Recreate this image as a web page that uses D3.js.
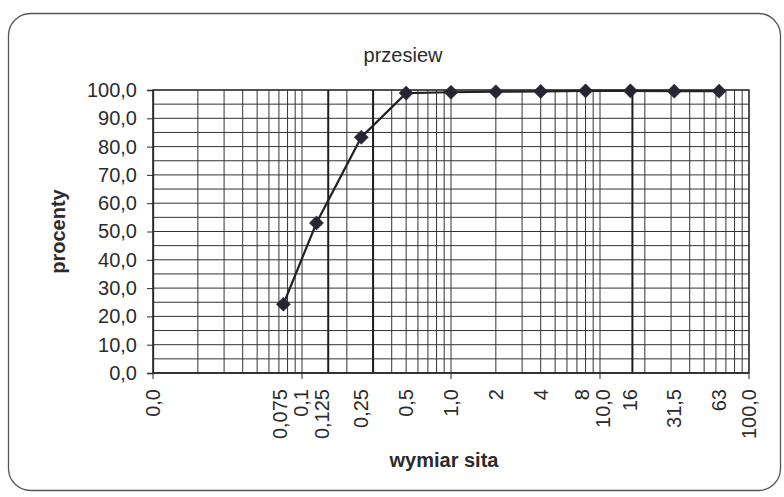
<!DOCTYPE html>
<html>
<head>
<meta charset="utf-8">
<script src="https://cdn.jsdelivr.net/npm/d3@7/dist/d3.min.js"></script>
<style>
  html, body { margin: 0; padding: 0; background: #ffffff; }
  svg { display: block; font-family: "Liberation Sans", Arial, sans-serif; }
</style>
</head>
<body>
<svg id="chart" width="784" height="497"></svg>
<script>
// ---- data ----
const sieves = [0.075, 0.125, 0.25, 0.5, 1, 2, 4, 8, 16, 31.5, 63];
const passing = [24.3, 53.0, 83.3, 98.9, 99.2, 99.4, 99.5, 99.7, 99.7, 99.6, 99.6];
const sieveLabels = ["0,075", "0,125", "0,25", "0,5", null, "2", "4", "8", "16", "31,5", "63"];
const extraMarks = [0.15, 0.3, 16.5];           // heavier vertical lines
const xDecades = [0.01, 0.1, 1, 10, 100];
const yTicks = [0, 10, 20, 30, 40, 50, 60, 70, 80, 90, 100];
const title = "przesiew";
const xTitle = "wymiar sita";
const yTitle = "procenty";

// ---- layout ----
const svg = d3.select("#chart");
const pLeft = 153, pRight = 749, pTop = 90, pBottom = 373;
const ink = "#2b2b2b";
const fs = 20;

const pl = d3.formatLocale({ decimal: ",", thousands: " ", grouping: [3], currency: ["", " zł"] });
const f1 = pl.format(".1f");

const x = d3.scaleLog().domain([0.01, 100]).range([pLeft, pRight]);
const y = d3.scaleLinear().domain([0, 100]).range([pBottom, pTop]);

// outer rounded frame
svg.append("rect")
  .attr("x", 8.5).attr("y", 13.5).attr("width", 772).attr("height", 477)
  .attr("rx", 22).attr("ry", 22)
  .attr("fill", "#fff").attr("stroke", "#555").attr("stroke-width", 1.3);

// title
svg.append("text").attr("x", 403).attr("y", 62).attr("text-anchor", "middle")
  .attr("font-size", fs).attr("fill", ink).text(title);

// horizontal grid every 5
const g = svg.append("g");
g.selectAll("line.h").data(d3.range(0, 101, 5)).join("line")
  .attr("class", "h")
  .attr("x1", pLeft).attr("x2", pRight)
  .attr("y1", d => y(d)).attr("y2", d => y(d))
  .attr("stroke", "#333").attr("stroke-width", 1);

// vertical log grid
g.selectAll("line.v").data(x.ticks()).join("line")
  .attr("class", "v")
  .attr("y1", pTop).attr("y2", pBottom)
  .attr("x1", d => x(d)).attr("x2", d => x(d))
  .attr("stroke", "#333").attr("stroke-width", 1);

// heavier marks
g.selectAll("line.m").data(extraMarks).join("line")
  .attr("class", "m")
  .attr("y1", pTop).attr("y2", pBottom)
  .attr("x1", d => x(d)).attr("x2", d => x(d))
  .attr("stroke", "#1e1e1e").attr("stroke-width", 2);

// plot frame
svg.append("rect").attr("x", pLeft).attr("y", pTop)
  .attr("width", pRight - pLeft).attr("height", pBottom - pTop)
  .attr("fill", "none").attr("stroke", "#2b2b2b").attr("stroke-width", 1.3);

// y axis
const yAxis = d3.axisLeft(y).tickValues(yTicks).tickFormat(f1).tickSize(6).tickPadding(10);
const ya = svg.append("g").attr("transform", `translate(${pLeft},0)`).call(yAxis);
ya.select(".domain").attr("stroke", ink).attr("stroke-width", 1.3);
ya.selectAll(".tick line").attr("stroke", ink);
ya.selectAll(".tick text").attr("font-size", fs).attr("fill", ink)
  .attr("font-family", "Liberation Sans, Arial, sans-serif");

// x axis ticks (decades)
const xa = svg.append("g").attr("transform", `translate(0,${pBottom})`);
xa.append("line").attr("x1", pLeft).attr("x2", pRight).attr("stroke", ink).attr("stroke-width", 1.3);
xa.selectAll("line.t").data(xDecades).join("line")
  .attr("class", "t")
  .attr("x1", d => x(d)).attr("x2", d => x(d)).attr("y1", 0).attr("y2", 6)
  .attr("stroke", ink);

// rotated x labels: decade labels + sieve labels, spread apart so they don't collide
const labels = xDecades.map(v => ({ v, t: f1(v) }))
  .concat(sieves.map((v, i) => ({ v, t: sieveLabels[i] })).filter(d => d.t))
  .map(d => ({ ...d, px: x(d.v) }))
  .sort((a, b) => a.px - b.px);
const minGap = 21;
for (let it = 0; it < 80; it++) {
  for (let i = 1; i < labels.length; i++) {
    const a = labels[i - 1], b = labels[i];
    const over = minGap - (b.px - a.px);
    if (over > 0) { a.px -= over / 2; b.px += over / 2; }
  }
}
svg.append("g").selectAll("text").data(labels).join("text")
  .attr("transform", d => `translate(${d.px},${pBottom + 16}) rotate(-90)`)
  .attr("text-anchor", "end").attr("dy", "0.35em")
  .attr("font-size", fs).attr("fill", ink)
  .text(d => d.t);

// axis titles
svg.append("text").attr("transform", `translate(58,${(pTop + pBottom) / 2}) rotate(-90)`)
  .attr("text-anchor", "middle").attr("dy", "0.35em")
  .attr("font-size", fs).attr("font-weight", "bold").attr("fill", ink).text(yTitle);
svg.append("text").attr("x", 444).attr("y", 467).attr("text-anchor", "middle")
  .attr("font-size", fs).attr("font-weight", "bold").attr("fill", ink).text(xTitle);

// series
const pts = sieves.map((s, i) => [s, passing[i]]);
svg.append("path").datum(pts)
  .attr("d", d3.line().x(d => x(d[0])).y(d => y(d[1])))
  .attr("fill", "none").attr("stroke", "#222").attr("stroke-width", 2.2);
svg.append("g").selectAll("path").data(pts).join("path")
  .attr("transform", d => `translate(${x(d[0])},${y(d[1])}) rotate(45)`)
  .attr("d", "M-5,-5H5V5H-5Z")
  .attr("fill", "#262633").attr("stroke", "#262633").attr("stroke-width", 0.5);
</script>
</body>
</html>
